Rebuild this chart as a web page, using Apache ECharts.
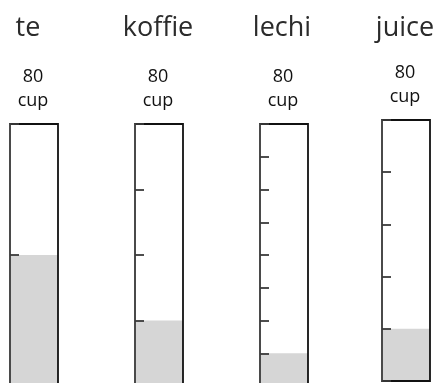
<!DOCTYPE html>
<html>
<head>
<meta charset="utf-8">
<script src="https://cdn.jsdelivr.net/npm/echarts@6/dist/echarts.min.js"></script>
<style>
  html, body { margin: 0; padding: 0; background: #fff; }
  #chart { width: 437px; height: 383px; }
</style>
</head>
<body>
<div id="chart"></div>
<script>
// Drinks, measured in cups, each shown as a graduated cylinder
const drinks = ['te', 'koffie', 'lechi', 'juice'];
const amounts = [40, 20, 10, 16];
const capacities = [80, 80, 80, 80];
const gradations = [40, 20, 10, 16];
const unit = 'cup';

// Cylinder layout (pixels)
const tubeLeft = [10, 135, 260, 382];
const tubeTop = [124, 124, 124, 120];
const tubeHeight = [262, 262, 262, 261];
const tubeWidth = 48;
const titleX = [28, 158, 282, 405];
const capX = [33, 158, 283, 405];

const FONT = '"Open Sans", Lato, sans-serif';

const grid = [], xAxis = [], yAxis = [], series = [], graphic = [];

drinks.forEach((name, i) => {
  grid.push({
    left: tubeLeft[i], top: tubeTop[i], width: tubeWidth, height: tubeHeight[i],
    outerBoundsMode: 'none', containLabel: false,
    show: true, borderColor: '#111', borderWidth: 1.8,
    backgroundColor: 'transparent', z: 3
  });
  xAxis.push({
    type: 'category', gridIndex: i, data: [name], show: false
  });
  yAxis.push({
    type: 'value', gridIndex: i, min: 0, max: capacities[i], interval: gradations[i],
    z: 4,
    axisLine: { show: true, lineStyle: { color: '#4a4a4a', width: 2 } },
    axisTick: { show: true, inside: true, length: 9, lineStyle: { color: '#3a3a3a', width: 1.8 } },
    axisLabel: { show: false },
    splitLine: { show: false }
  });
  series.push({
    type: 'bar', xAxisIndex: i, yAxisIndex: i, z: 1,
    barWidth: '100%', barCategoryGap: 0,
    data: [amounts[i]],
    itemStyle: { color: '#d6d6d6' },
    silent: true
  });
  const shift = tubeTop[i] - 124;
  graphic.push({
    type: 'text', x: titleX[i], y: 28,
    style: { text: name, font: '27px ' + FONT, fill: '#2b2b2b', align: 'center', verticalAlign: 'middle' }
  });
  graphic.push({
    type: 'text', x: capX[i], y: 77 + shift,
    style: { text: String(capacities[i]), font: '18px ' + FONT, fill: '#111', align: 'center', verticalAlign: 'middle' }
  });
  graphic.push({
    type: 'text', x: capX[i], y: 101 + shift,
    style: { text: unit, font: '18px ' + FONT, fill: '#111', align: 'center', verticalAlign: 'middle' }
  });
});

const chart = echarts.init(document.getElementById('chart'), null, { renderer: 'canvas' });
chart.setOption({
  animation: false,
  backgroundColor: '#fff',
  grid, xAxis, yAxis, series, graphic
});
</script>
</body>
</html>
